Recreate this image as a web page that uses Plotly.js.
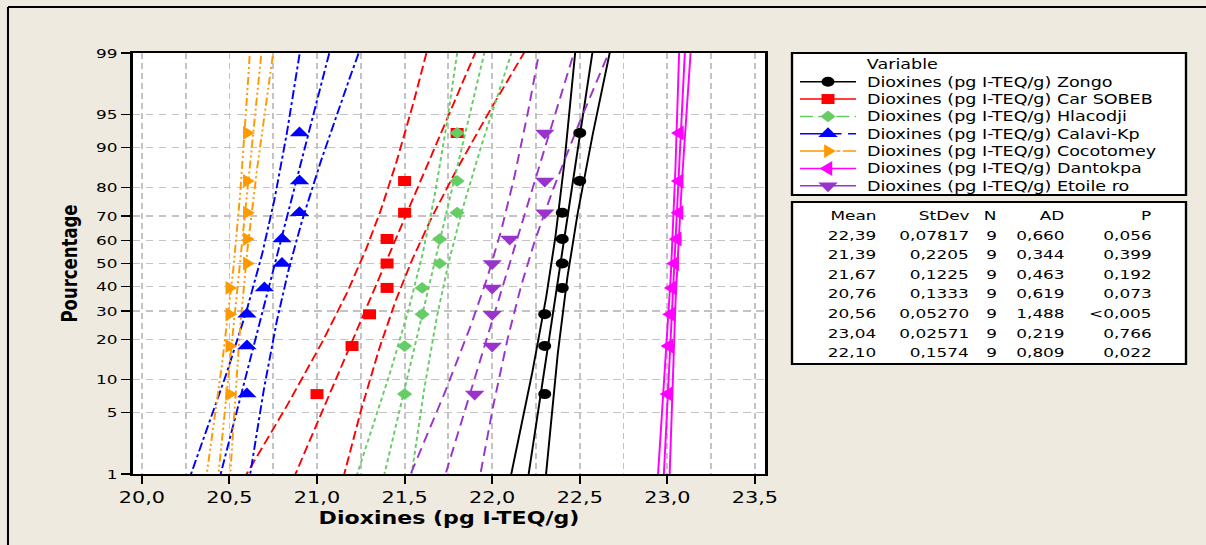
<!DOCTYPE html>
<html><head><meta charset="utf-8">
<script src="https://cdn.plot.ly/plotly-3.0.1.min.js"></script>
<style>
html,body{margin:0;padding:0;background:#EEEAE0;overflow:hidden;width:1206px;height:545px;}
#wrap{width:928px;height:545px;transform:scaleX(1.2995690);transform-origin:0 0;}
#chart{width:928px;height:545px;}
</style></head>
<body><div id="wrap"><div id="chart"></div></div>
<script>
// ---------------- data ----------------
const seriesNames = ['Zongo','Car SOBEB','Hlacodji','Calavi-Kp','Cocotomey','Dantokpa','Etoile ro'];
const zongo     = [22.3,22.3,22.3,22.4,22.4,22.4,22.4,22.5,22.5];
const carSobeb  = [21.0,21.2,21.3,21.4,21.4,21.4,21.5,21.5,21.8];
const hlacodji  = [21.5,21.5,21.6,21.6,21.7,21.7,21.8,21.8,21.8];
const calaviKp  = [20.6,20.6,20.6,20.7,20.8,20.8,20.9,20.9,20.9];
const cocotomey = [20.5,20.5,20.5,20.5,20.6,20.6,20.6,20.6,20.6];
const dantokpa  = [23.004,23.009,23.019,23.028,23.042,23.057,23.067,23.068,23.069];
const etoileRo  = [21.9,22.0,22.0,22.0,22.0,22.1,22.3,22.3,22.3];
const meanVals  = [22.39,21.39,21.67,20.76,20.56,23.04,22.10];
const stdevVals = [0.07817,0.2205,0.1225,0.1333,0.05270,0.02571,0.1574];
const nVals     = [9,9,9,9,9,9,9];
const adVals    = [0.660,0.344,0.463,0.619,1.488,0.219,0.809];
const pVals     = [0.056,0.399,0.192,0.073,0.005,0.766,0.022];
const pLess     = [false,false,false,false,true,false,false];
const probTicks = [1,5,10,20,30,40,50,60,70,80,90,95,99];
const xTicks    = [20.0,20.5,21.0,21.5,22.0,22.5,23.0,23.5];
const varPrefix = 'Dioxines (pg I-TEQ/g) ';
const xTitle = 'Dioxines (pg I-TEQ/g)';
const yTitle = 'Pourcentage';
const tableHeads = ['Mean','StDev','N','AD','P'];

// ---------------- styles ----------------
const colors  = ['#000000','#FF0000','#66CC66','#0000FF','#FF9900','#FF00FF','#9933CC'];
const dashes  = ['solid','9px,4px','4px,3px','9px,3px,3px,3px','8px,3px,2px,3px,2px,3px','solid','10px,6px'];
const legDash = ['solid','solid','10px,4px','32px,5px','26px,2px,3px,2px','solid','solid'];
const symbols = ['circle','square','diamond','triangle-up','triangle-right','triangle-left','triangle-down'];
const msizes  = [10,10,9,13,12,13,13];
const FONT = 'DejaVu Sans, Verdana, sans-serif';

// ---------------- geometry ----------------
const S = 1206/928, W = 928, H = 545, ML = 102, MR = 339, MT = 53, MB = 71;
const PW = W-ML-MR, PH = H-MT-MB;
const xp = px => (px/S - ML)/PW;     // reference pixel -> paper x
const yp = py => (H - MB - py)/PH;   // reference pixel -> paper y

function normInv(p){
  const a=[-3.969683028665376e+01,2.209460984245205e+02,-2.759285104469687e+02,1.383577518672690e+02,-3.066479806614716e+01,2.506628277459239e+00];
  const b=[-5.447609879822406e+01,1.615858368580409e+02,-1.556989798598866e+02,6.680131188771972e+01,-1.328068155288572e+01];
  const c=[-7.784894002430293e-03,-3.223964580411365e-01,-2.400758277161838e+00,-2.549671635321357e+00,4.374664141464968e+00,2.938163982698783e+00];
  const d=[7.784695709041462e-03,3.224671290700398e-01,2.445134137142996e+00,3.754408661907416e+00];
  const pl=0.02425, ph=1-pl; let q,r;
  if(p<pl){q=Math.sqrt(-2*Math.log(p));return (((((c[0]*q+c[1])*q+c[2])*q+c[3])*q+c[4])*q+c[5])/((((d[0]*q+d[1])*q+d[2])*q+d[3])*q+1);}
  if(p<=ph){q=p-0.5;r=q*q;return (((((a[0]*r+a[1])*r+a[2])*r+a[3])*r+a[4])*r+a[5])*q/(((((b[0]*r+b[1])*r+b[2])*r+b[3])*r+b[4])*r+1);}
  q=Math.sqrt(-2*Math.log(1-p));return -(((((c[0]*q+c[1])*q+c[2])*q+c[3])*q+c[4])*q+c[5])/((((d[0]*q+d[1])*q+d[2])*q+d[3])*q+1);
}
const comma = s => s.replace('.', ',');

// ---------------- traces ----------------
const datasets = [zongo, carSobeb, hlacodji, calaviKp, cocotomey, dantokpa, etoileRo];
const traces = [];
const zA = normInv(0.004), zB = normInv(0.996), zGrid = [];
for (let k=0;k<=120;k++) zGrid.push(zA+(zB-zA)*k/120);
datasets.forEach((d,i)=>{
  const m=meanVals[i], sd=stdevVals[i], n=nVals[i];
  const fit = zGrid.map(z=>m+z*sd);
  const hw  = zGrid.map(z=>1.96*sd*Math.sqrt(1/n + z*z/(2*n)));
  [fit.map((v,k)=>v-hw[k]), fit, fit.map((v,k)=>v+hw[k])].forEach(xs=>{
    traces.push({type:'scatter',mode:'lines',x:xs,y:zGrid,showlegend:false,hoverinfo:'skip',
      line:{color:colors[i],width:1.5,dash:dashes[i]}});
  });
});
datasets.forEach((d,i)=>{
  const n=d.length;
  const ys=d.map((v,k)=>normInv((k+1-0.3)/(n+0.4)));
  traces.push({type:'scatter',mode:'markers',x:d,y:ys,name:varPrefix+seriesNames[i],showlegend:false,
    marker:{symbol:symbols[i],size:msizes[i],color:colors[i],line:{width:0}}});
});

// ---------------- legend & table (decoration) ----------------
function glyphPath(sym,size){
  const r=size/2, rt=r*2/Math.sqrt(3), r2=r/2, dd=r*1.3; let pts;
  switch(sym){
    case 'square': pts=[[-r,-r],[r,-r],[r,r],[-r,r]];break;
    case 'diamond': pts=[[-dd,0],[0,dd],[dd,0],[0,-dd]];break;
    case 'triangle-up': pts=[[-rt,-r2],[rt,-r2],[0,r]];break;
    case 'triangle-down': pts=[[-rt,r2],[rt,r2],[0,-r]];break;
    case 'triangle-right': pts=[[-r2,-rt],[-r2,rt],[r,0]];break;
    case 'triangle-left': pts=[[r2,-rt],[r2,rt],[-r,0]];break;
  }
  return 'M'+pts.map(p=>p[0].toFixed(2)+','+p[1].toFixed(2)).join('L')+'Z';
}
const shapes = [];
const annotations = [];
// outer frame
shapes.push({type:'line',xref:'paper',yref:'paper',x0:xp(8),x1:xp(1210),y0:yp(7),y1:yp(7),line:{color:'#000',width:2}});
shapes.push({type:'line',xref:'paper',yref:'paper',x0:xp(8),x1:xp(8),y0:yp(7),y1:yp(560),line:{color:'#000',width:1.6}});
// legend box + table box
shapes.push({type:'rect',xref:'paper',yref:'paper',x0:xp(792),x1:xp(1186),y0:yp(53),y1:yp(195),fillcolor:'#fff',line:{color:'#000',width:1.8}});
shapes.push({type:'rect',xref:'paper',yref:'paper',x0:xp(792),x1:xp(1186),y0:yp(202),y1:yp(364),fillcolor:'#fff',line:{color:'#000',width:1.8}});
annotations.push({xref:'paper',yref:'paper',x:xp(864),y:yp(64),xanchor:'left',yanchor:'middle',showarrow:false,
  text:'Variable',font:{family:FONT,size:13.5,color:'#000'}});
seriesNames.forEach((nm,i)=>{
  const yy = 81.7 + i*17.35;
  shapes.push({type:'line',xref:'paper',yref:'paper',x0:xp(800),x1:xp(856),y0:yp(yy),y1:yp(yy),line:{color:colors[i],width:1.5,dash:legDash[i]}});
  if(symbols[i]==='circle'){
    const r=msizes[i]/2;
    shapes.push({type:'circle',xref:'paper',yref:'paper',xsizemode:'pixel',ysizemode:'pixel',xanchor:xp(828),yanchor:yp(yy),
      x0:-r,x1:r,y0:-r,y1:r,fillcolor:colors[i],line:{width:0}});
  } else {
    shapes.push({type:'path',xref:'paper',yref:'paper',xsizemode:'pixel',ysizemode:'pixel',xanchor:xp(828),yanchor:yp(yy),
      path:glyphPath(symbols[i],msizes[i]),fillcolor:colors[i],line:{width:0}});
  }
  annotations.push({xref:'paper',yref:'paper',x:xp(864),y:yp(yy),xanchor:'left',yanchor:'middle',showarrow:false,
    text:varPrefix+nm,font:{family:FONT,size:13.5,color:'#000'}});
});
// stats table
const colRight = [879,972,1000,1067,1154];
tableHeads.forEach((h,j)=>annotations.push({xref:'paper',yref:'paper',x:xp(colRight[j]),y:yp(216),xanchor:'right',yanchor:'middle',
  showarrow:false,text:h,font:{family:FONT,size:13,color:'#000'}}));
meanVals.forEach((m,i)=>{
  const cells=[comma(m.toFixed(2)),comma(stdevVals[i].toPrecision(4)),String(nVals[i]),comma(adVals[i].toFixed(3)),
    (pLess[i]?'&lt;':'')+comma(pVals[i].toFixed(3))];
  cells.forEach((c,j)=>annotations.push({xref:'paper',yref:'paper',x:xp(colRight[j]),y:yp(235+i*19.65),xanchor:'right',yanchor:'middle',
    showarrow:false,text:c,font:{family:FONT,size:13,color:'#000'}}));
});

// ---------------- layout ----------------
const gridC = '#C3C3C3';
const layout = {
  width:W, height:H,
  margin:{l:ML,r:MR,t:MT,b:MB,pad:0},
  paper_bgcolor:'#EEEAE0', plot_bgcolor:'#FFFFFF',
  separators:',.',
  font:{family:FONT,color:'#000'},
  showlegend:false,
  xaxis:{
    range:[19.947,23.56], tickvals:xTicks, tickformat:'.1f', ticks:'outside', ticklen:8, tickwidth:1.6, tickcolor:'#000',
    showline:true, linecolor:'#000', linewidth:2, mirror:true, zeroline:false,
    showgrid:true, gridcolor:gridC, gridwidth:1.4, griddash:'6px,4px',
    minor:{dtick:0.25, tick0:20, showgrid:true, gridcolor:gridC, gridwidth:1.4, griddash:'6px,4px', ticks:''},
    tickfont:{family:FONT,size:16,color:'#000'},
    title:{text:xTitle, font:{family:FONT,size:17,color:'#000',weight:'bold'}, standoff:6}
  },
  yaxis:{
    range:[normInv(0.01),normInv(0.99)], tickvals:probTicks.map(p=>normInv(p/100)), ticktext:probTicks.map(String),
    ticks:'outside', ticklen:7, tickwidth:1.6, tickcolor:'#000',
    showline:true, linecolor:'#000', linewidth:2, mirror:true, zeroline:false,
    showgrid:true, gridcolor:gridC, gridwidth:1.4, griddash:'6px,4px',
    tickfont:{family:FONT,size:13,color:'#000'},
    title:{text:yTitle, font:{family:FONT,size:16.5,color:'#000',weight:'bold'}, standoff:10}
  },
  shapes:shapes,
  annotations:annotations
};
Plotly.newPlot('chart', traces, layout, {displayModeBar:false, staticPlot:true});
</script>
</body></html>
